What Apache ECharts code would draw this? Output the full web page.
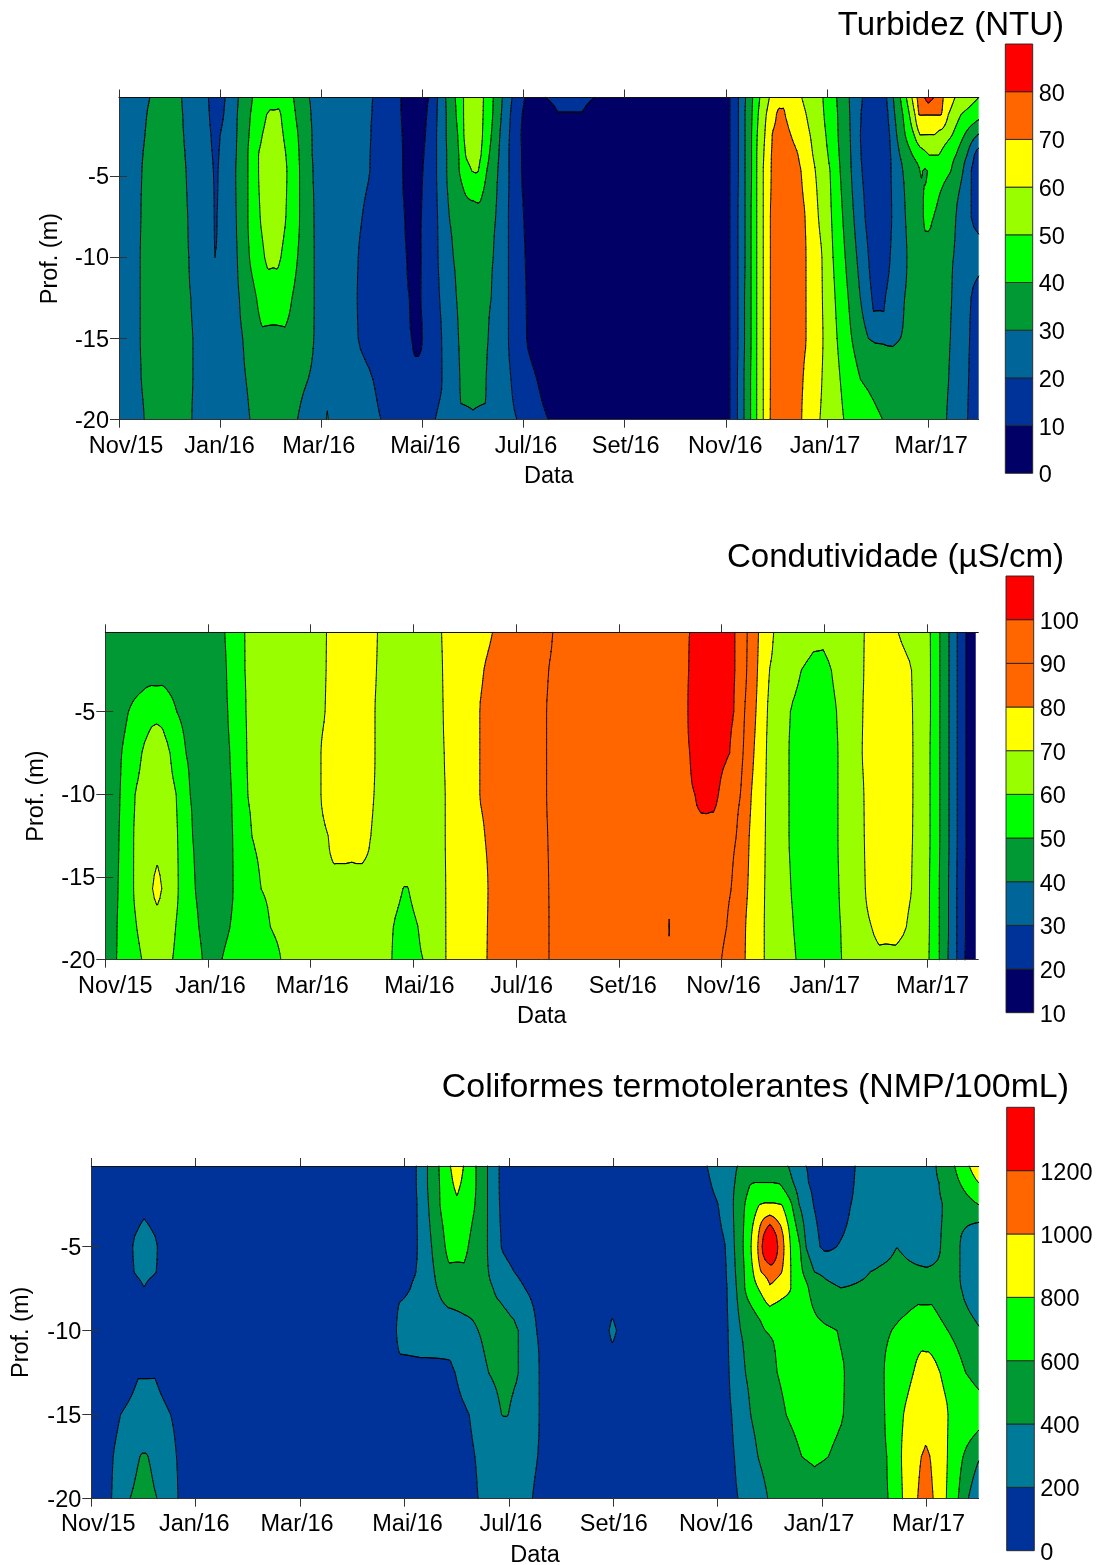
<!DOCTYPE html>
<html>
<head>
<meta charset="utf-8">
<script src="https://cdn.jsdelivr.net/npm/echarts@6/dist/echarts.min.js"></script>
<style>
	html, body { margin: 0; padding: 0; background: #fff; }
	#main { width: 1102px; height: 1565px; }
</style>
</head>
<body>
<div id="main"></div>
<script>
// x is months since Nov/15
var xTicks = [0, 2, 4, 6, 8, 10, 12, 14, 16];
var xTickLabels = ['Nov/15', 'Jan/16', 'Mar/16', 'Mai/16', 'Jul/16', 'Set/16', 'Nov/16', 'Jan/17', 'Mar/17'];
var depthTicks = [-20, -15, -10, -5];

// each row holds [month, value] readings along one depth
var turbLevels = [10, 20, 30, 40, 50, 60, 70, 80];
var turbBarTicks = [0, 10, 20, 30, 40, 50, 60, 70, 80, 90];
var turbDepths = [-0.15, -1.2, -2.5, -3.7, -4.7, -7.5, -10, -12.5, -15, -17.5, -20];
var turbRows = [
	[[0,25],[.61,30],[.91,33],[1.24,30],[1.52,25],[1.77,20],[1.92,15],[2.10,20],[2.24,25],[2.36,30],[2.64,40],[2.99,47],[3.18,47],[3.45,40],[3.76,30],[4.37,25],[5.02,20],[5.57,10],[5.85,5],[6.13,10],[6.30,20],[6.46,30],[6.65,40],[6.81,50],[7.00,56],[7.21,50],[7.40,40],[7.58,30],[7.77,20],[8.02,10],[8.23,5],[8.30,5],[8.44,10],[8.68,13],[9.16,13],[9.40,10],[9.61,5],[11.99,5],[12.08,10],[12.25,20],[12.39,30],[12.53,40],[12.67,50],[12.86,60],[12.99,68],[13.15,68],[13.50,60],[13.92,50],[14.19,40],[14.44,30],[14.70,20],[14.95,15],[15.05,15],[15.18,20],[15.31,30],[15.45,40],[15.57,50],[15.68,60],[15.78,70],[15.93,80],[16.00,85],[16.11,80],[16.30,70],[16.53,60],[17,50]],
	[[0,25],[.55,30],[.91,33],[1.26,30],[1.52,25],[1.79,20],[1.92,15],[2.07,20],[2.22,25],[2.34,30],[2.60,40],[2.92,50],[2.99,51],[3.16,51],[3.20,50],[3.49,40],[3.79,30],[4.37,25],[5.00,20],[5.58,10],[5.85,5],[6.09,10],[6.29,20],[6.47,30],[6.67,40],[6.81,50],[7.00,56],[7.20,50],[7.39,40],[7.56,30],[7.74,20],[7.97,10],[8.2,5],[8.44,5],[8.68,9.5],[9.16,9.5],[9.40,5],[11.99,5],[12.08,10],[12.25,20],[12.38,30],[12.52,40],[12.64,50],[12.80,60],[13.00,70],[13.05,71],[13.15,71],[13.17,70],[13.59,60],[13.94,50],[14.21,40],[14.45,30],[14.67,20],[14.95,15],[15.05,15],[15.21,20],[15.34,30],[15.50,40],[15.63,50],[15.74,60],[15.81,70],[15.85,70.3],[16.23,70.3],[16.27,70],[16.40,60],[16.65,50],[17,43]],
	[[0,25],[.51,30],[.91,33],[1.28,30],[1.55,25],[1.82,20],[1.92,16],[2.00,20],[2.18,25],[2.33,30],[2.57,40],[2.83,50],[3.05,55],[3.25,50],[3.54,40],[3.81,30],[4.37,25],[4.98,20],[5.60,10],[5.85,5],[6.06,10],[6.28,20],[6.47,30],[6.70,40],[6.82,50],[7.00,56],[7.19,50],[7.36,40],[7.53,30],[7.72,20],[7.95,10],[8.15,5],[11.99,5],[12.08,10],[12.25,20],[12.38,30],[12.51,40],[12.62,50],[12.77,60],[12.91,70],[13.1,74],[13.29,70],[13.67,60],[13.98,50],[14.22,40],[14.46,30],[14.66,20],[14.95,15],[15.05,15],[15.24,20],[15.38,30],[15.55,40],[15.73,50],[15.84,59.5],[16.13,59.5],[16.47,50],[16.71,40],[16.96,30],[17,29]],
	[[0,25],[.47,30],[.91,33],[1.31,30],[1.55,25],[1.85,20],[1.92,17],[1.97,20],[2.15,25],[2.32,30],[2.55,40],[2.76,50],[3.05,57],[3.30,50],[3.56,40],[3.82,30],[4.37,25],[4.97,20],[5.61,10],[5.85,5],[6.03,10],[6.28,20],[6.48,30],[6.72,40],[6.85,50],[7.00,55],[7.16,50],[7.32,40],[7.51,30],[7.71,20],[7.96,10],[8.15,5],[11.99,5],[12.08,10],[12.25,20],[12.38,30],[12.51,40],[12.61,50],[12.75,60],[12.90,70],[13.2,75],[13.43,70],[13.72,60],[14.02,50],[14.24,40],[14.47,30],[14.67,20],[14.95,15],[15.05,15],[15.26,20],[15.44,30],[15.69,40],[16.02,50],[16.21,50],[16.55,40],[16.77,30],[16.91,20],[17,17]],
	[[0,25],[.45,30],[.91,33],[1.33,30],[1.6,25],[1.87,20],[1.92,18],[1.96,20],[2.12,25],[2.31,30],[2.55,40],[2.76,50],[3.05,58],[3.32,50],[3.57,40],[3.83,30],[4.37,25],[4.96,20],[5.61,10],[5.85,5],[6.01,10],[6.28,20],[6.48,30],[6.73,40],[6.98,50],[7.05,50.5],[7.11,50],[7.27,40],[7.49,30],[7.71,20],[7.96,10],[8.15,5],[11.99,5],[12.08,10],[12.25,20],[12.38,30],[12.51,40],[12.61,50],[12.74,60],[12.89,70],[13.2,75],[13.49,70],[13.77,60],[14.06,50],[14.26,40],[14.48,30],[14.69,20],[14.95,15],[15.05,15],[15.27,20],[15.50,30],[15.84,40],[15.86,40.3],[15.89,40],[15.94,39.4],[15.99,40],[16.03,41],[16.14,45],[16.45,40],[16.69,30],[16.85,20],[17,16]],
	[[0,25],[.43,30],[.91,33],[1.36,30],[1.6,25],[1.89,20],[1.91,18],[1.94,20],[2.10,25],[2.32,30],[2.55,40],[2.79,50],[3.05,57],[3.30,50],[3.57,40],[3.85,30],[4.3,25],[4.81,20],[5.65,10],[5.85,5],[5.98,10],[6.30,20],[6.53,30],[6.85,36.8],[7.15,36.8],[7.45,30],[7.70,20],[8.00,10],[8.2,5],[11.99,5],[12.08,10],[12.24,20],[12.38,30],[12.50,40],[12.61,50],[12.74,60],[12.88,70],[13.2,75],[13.57,70],[13.83,60],[14.09,50],[14.31,40],[14.53,30],[14.75,20],[14.95,15],[15.05,15],[15.28,20],[15.55,30],[15.91,40],[15.94,42],[16.0,42.5],[16.11,40],[16.55,30],[16.85,20],[17,17]],
	[[0,25],[.42,30],[.91,33],[1.38,30],[1.7,24],[1.90,20],[2.1,25],[2.34,30],[2.58,40],[2.88,50],[2.95,51.6],[3.13,51.6],[3.20,50],[3.53,40],[3.86,30],[4.3,25],[4.73,20],[5.69,10],[5.85,5],[5.97,10],[6.31,20],[6.61,30],[7.0,36],[7.40,30],[7.70,20],[8.03,10],[8.25,5],[11.99,5],[12.08,10],[12.24,20],[12.38,30],[12.50,40],[12.61,50],[12.74,60],[12.88,70],[13.2,75],[13.59,70],[13.90,60],[14.12,50],[14.36,40],[14.59,30],[14.82,20],[14.95,15],[15.05,15],[15.25,20],[15.58,30],[15.95,35],[16.50,30],[17,24]],
	[[0,25],[.42,30],[.91,33],[1.42,30],[1.90,23],[2.38,30],[2.72,40],[2.83,45],[3.28,45],[3.42,40],[3.86,30],[4.3,25],[4.71,20],[5.74,10],[5.85,7],[5.97,10],[6.34,20],[6.67,30],[7.0,34],[7.36,30],[7.70,20],[8.05,10],[8.3,5],[11.99,5],[12.08,10],[12.24,20],[12.37,30],[12.50,40],[12.61,50],[12.74,60],[12.88,70],[13.2,75],[13.59,70],[13.91,60],[14.16,50],[14.42,40],[14.66,30],[14.89,20],[14.92,17.2],[15.12,17.2],[15.15,20],[15.53,30],[16,35],[16.47,30],[16.85,20],[17,15]],
	[[0,25],[.42,30],[.91,33],[1.46,30],[1.95,25],[2.45,30],[2.83,38],[3.28,38],[3.85,30],[4.3,25],[4.73,20],[5.79,10],[5.85,7],[5.92,7],[6.00,10],[6.38,20],[6.71,30],[7.0,33],[7.30,30],[7.70,20],[8.06,10],[8.3,5],[11.99,5],[12.08,10],[12.24,20],[12.37,30],[12.50,40],[12.61,50],[12.74,60],[12.88,70],[13.2,75],[13.59,70],[13.92,60],[14.20,50],[14.49,40],[14.82,30],[14.95,29],[15.3,29],[15.45,30],[16,35],[16.44,30],[16.82,20],[17,15]],
	[[0,25],[.44,30],[.91,33],[1.46,30],[1.98,25],[2.51,30],[3.05,35],[3.74,30],[4.12,27],[5.02,20],[5.79,14.5],[6.00,14.5],[6.39,20],[6.74,30],[6.76,35],[7.24,35],[7.26,30],[7.75,20],[8.26,10],[8.5,5],[11.99,5],[12.08,10],[12.23,20],[12.36,30],[12.49,40],[12.61,50],[12.74,60],[12.88,70],[13.2,75],[13.53,70],[13.90,60],[14.26,50],[14.66,40],[15.2,34],[16,34],[16.41,30],[16.80,20],[17,15]],
	[[0,25],[.50,30],[.91,33],[1.44,30],[1.98,25],[2.59,30],[3.0,34],[3.53,30],[4.0,25],[4.10,30],[4.12,31],[4.14,30],[4.23,25],[5.18,20],[5.9,15],[6.25,20],[6.75,25],[7.0,28],[7.25,25],[7.87,20],[8.49,10],[8.7,5],[11.99,5],[12.08,10],[12.23,20],[12.36,30],[12.49,40],[12.61,50],[12.74,60],[12.87,70],[13.2,75],[13.50,70],[13.86,60],[14.33,50],[15.10,40],[15.6,35],[16.37,30],[16.78,20],[17,15]]
];

var condLevels = [20, 30, 40, 50, 60, 70, 80, 90, 100];
var condBarTicks = [10, 20, 30, 40, 50, 60, 70, 80, 90, 100, 110];
var condDepths = [-0.2, -2.5, -5, -7.5, -10, -12.5, -15.7, -18, -20];
var condRows = [
	[[0,45],[2,45],[2.33,50],[2.71,60],[3.5,65],[4.31,70],[4.8,75],[5.30,70],[5.9,65],[6.55,70],[7.54,80],[8.71,90],[11.38,100],[11.8,105],[12.26,100],[12.50,90],[12.72,80],[13.01,70],[13.5,65],[13.79,62],[13.98,62],[14.3,66],[14.78,70],[15.1,73],[15.44,70],[15.8,65],[16.07,60],[16.25,50],[16.43,40],[16.59,30],[16.76,20],[16.95,10]],
	[[0,44],[.81,47],[1.13,47],[2.0,44],[2.36,50],[2.72,60],[3.5,65],[4.30,70],[4.8,75],[5.28,70],[5.9,65],[6.57,70],[7.37,80],[8.63,90],[11.36,100],[11.8,105],[12.26,100],[12.49,90],[12.70,80],[12.93,70],[13.3,65],[13.55,60],[13.79,58.2],[13.98,58.2],[14.14,60],[14.4,65],[14.77,70],[15.2,75],[15.70,70],[15.95,65],[16.07,60],[16.25,50],[16.43,40],[16.59,30],[16.76,20],[16.95,10]],
	[[0,44],[.2,44],[.45,50],[.90,57],[1.11,57],[1.39,50],[1.8,45],[2.39,50],[2.74,60],[3.5,65],[4.28,70],[4.8,75],[5.25,70],[5.9,65],[6.58,70],[7.29,80],[8.59,90],[11.35,100],[11.8,105],[12.24,100],[12.45,90],[12.67,80],[12.89,70],[13.1,65],[13.34,60],[13.8,55],[14.24,60],[14.45,65],[14.75,70],[15.2,75],[15.72,70],[15.95,65],[16.07,60],[16.25,50],[16.43,40],[16.59,30],[16.76,20],[16.95,10]],
	[[0,44],[.1,44],[.32,50],[.71,60],[1.0,65],[1.26,60],[1.57,50],[1.9,45],[2.43,50],[2.75,60],[3.5,65],[4.20,70],[4.8,75],[5.25,70],[5.9,65],[6.60,70],[7.29,80],[8.59,90],[11.38,100],[11.8,103],[12.16,100],[12.42,90],[12.63,80],[12.87,70],[13.1,65],[13.31,60],[13.8,55],[14.27,60],[14.5,65],[14.74,70],[15.2,75],[15.73,70],[15.95,65],[16.06,60],[16.25,50],[16.43,40],[16.59,30],[16.76,20],[16.95,10]],
	[[0,44],[.05,44],[.29,50],[.58,60],[1,65],[1.38,60],[1.65,50],[2,45],[2.46,50],[2.77,60],[3.5,65],[4.20,70],[4.8,75],[5.23,70],[5.9,65],[6.62,70],[7.29,80],[8.59,90],[11.48,100],[11.6,102.5],[11.84,102.5],[11.94,100],[12.37,90],[12.58,80],[12.86,70],[13.1,65],[13.31,60],[13.8,55],[14.27,60],[14.5,65],[14.77,70],[15.2,75],[15.73,70],[15.95,65],[16.06,60],[16.25,50],[16.43,40],[16.59,30],[16.76,20],[16.95,10]],
	[[0,44],[.04,44],[.27,50],[.55,60],[1.01,68],[1.41,60],[1.70,50],[2.05,45],[2.48,50],[2.85,60],[3.6,65],[4.34,70],[4.45,74],[5.0,74],[5.17,70],[5.5,65],[6.2,65],[6.62,70],[7.39,80],[8.61,90],[11.0,95],[11.7,97],[12.0,95],[12.29,90],[12.54,80],[12.85,70],[13.1,65],[13.31,60],[13.8,55],[14.27,60],[14.5,65],[14.78,70],[15.2,75],[15.72,70],[15.95,65],[16.06,60],[16.25,50],[16.43,40],[16.59,30],[16.76,20],[16.95,10]],
	[[0,44],[.03,44],[.25,50],[.55,60],[.92,70],[1.01,71],[1.10,70],[1.42,60],[1.75,50],[2.1,45],[2.49,50],[3.03,60],[4.45,66],[5.0,66],[5.5,65],[5.81,59.8],[5.89,59.8],[6.2,65],[6.63,70],[7.45,80],[8.63,90],[11,96],[11.7,97],[12.19,90],[12.51,80],[12.84,70],[13.1,65],[13.35,60],[13.8,55],[14.29,60],[14.5,65],[14.80,70],[15.2,75],[15.70,70],[15.95,65],[16.05,60],[16.24,50],[16.42,40],[16.58,30],[16.75,20],[16.95,10]],
	[[0,44],[.01,44],[.23,50],[.61,60],[.9,66],[1.01,68],[1.2,64],[1.37,60],[1.82,50],[2.05,47],[2.43,50],[3.21,60],[4.5,65],[5.2,65],[5.61,60],[5.83,57],[6.09,60],[6.3,65],[6.63,70],[7.44,80],[8.64,90],[10.9,97],[10.95,98],[10.98,100.5],[11.01,98],[11.1,97],[11.7,96],[12.10,90],[12.47,80],[12.83,70],[13.1,65],[13.40,60],[13.8,55],[14.32,60],[14.6,67],[14.92,70],[15.07,72],[15.39,72],[15.60,70],[15.9,65],[16.05,60],[16.24,50],[16.42,40],[16.58,30],[16.75,20],[16.95,10]],
	[[0,44],[.22,50],[.71,60],[1.01,65],[1.31,60],[1.89,50],[2.08,46],[2.27,50],[3.42,60],[4.5,65],[5,65],[5.58,60],[5.85,56],[6.19,60],[6.4,65],[6.63,70],[7.43,80],[8.64,90],[11,97],[11.7,97],[12.0,90],[12.46,80],[12.83,70],[13.1,65],[13.45,60],[13.9,55],[14.34,60],[14.8,66],[15.07,68],[15.39,68],[15.9,65],[16.04,60],[16.24,50],[16.41,40],[16.58,30],[16.74,20],[16.95,10]]
];

var coliLevels = [200, 400, 600, 800, 1000, 1200];
var coliBarTicks = [0, 200, 400, 600, 800, 1000, 1200, 1400];
var coliDepths = [-0.2, -1.2, -2.5, -5, -6.5, -7.5, -10, -12.5, -15, -17.5, -20];
var coliRows = [
	[[0,100],[6,100],[6.23,200],[6.44,400],[6.66,600],[6.88,800],[7.01,905],[7.13,800],[7.37,600],[7.59,400],[7.81,200],[8.1,100],[11.5,100],[11.80,200],[12.38,400],[12.75,480],[13.05,480],[13.35,400],[13.52,300],[13.69,200],[14.15,100],[14.63,200],[15.3,300],[16.19,400],[16.35,500],[16.54,600],[16.82,800],[17,950]],
	[[0,100],[6,100],[6.23,200],[6.44,400],[6.67,600],[6.93,800],[7.0,850],[7.08,800],[7.37,600],[7.59,400],[7.81,200],[8.1,100],[11.55,100],[11.87,200],[12.33,400],[12.62,590],[12.71,602],[13.06,602],[13.19,590],[13.45,400],[13.74,200],[14.15,100],[14.61,200],[15.3,300],[16.24,400],[16.64,600],[17,800]],
	[[0,100],[.6,100],[1.01,168],[1.5,100],[6,100],[6.24,200],[6.46,400],[6.68,600],[7.01,770],[7.35,600],[7.59,400],[7.82,200],[8.1,100],[11.7,100],[12.01,200],[12.30,400],[12.52,600],[12.80,800],[12.91,820],[13.06,820],[13.23,800],[13.42,600],[13.56,400],[13.83,200],[14.15,100],[14.55,200],[15.3,320],[16.31,400],[17,600]],
	[[0,100],[.55,100],[.79,200],[1.01,240],[1.27,200],[1.5,100],[6,100],[6.25,200],[6.52,400],[6.78,600],[6.85,650],[7.14,650],[7.22,600],[7.59,400],[7.85,200],[8.15,100],[11.8,100],[12.15,200],[12.32,400],[12.49,600],[12.64,800],[12.77,1000],[12.85,1200],[13,1498],[13.15,1200],[13.27,1000],[13.39,800],[13.58,600],[13.69,400],[13.96,200],[14.04,180],[14.13,180],[14.28,200],[15.43,399],[16,340],[16.27,400],[16.45,440],[16.64,400],[17,220]],
	[[0,100],[.55,100],[.82,200],[1.01,222],[1.25,200],[1.5,100],[5.9,100],[6.22,200],[6.57,400],[6.85,567],[7.14,567],[7.61,400],[8.10,200],[8.5,100],[11.8,100],[12.17,200],[12.34,400],[12.51,600],[12.68,800],[12.83,1000],[13.04,1100],[13.23,1000],[13.40,800],[13.63,600],[13.85,400],[14.36,300],[14.92,400],[15.43,440],[16,420],[16.4,430],[16.64,400],[17,240]],
	[[0,100],[.55,100],[1.01,198],[1.5,100],[5.7,100],[6.11,200],[6.63,400],[6.85,510],[7.14,510],[7.70,400],[8.31,200],[8.7,100],[11.8,100],[12.18,200],[12.36,400],[12.52,600],[12.78,800],[13.0,975],[13.40,800],[13.74,600],[14.06,450],[14.36,405],[15.11,440],[15.84,530],[16.10,530],[16.41,450],[16.67,400],[17,250]],
	[[0,100],[5.6,100],[5.85,200],[5.91,280],[6.87,280],[7.41,400],[7.83,470],[8.18,400],[8.53,200],[8.9,100],[9.7,100],[9.85,130],[9.92,200],[9.98,225],[10.06,200],[10.13,130],[10.4,100],[11.9,100],[12.20,200],[12.44,400],[12.91,600],[13.0,610],[13.58,650],[14.29,600],[14.73,480],[15.33,600],[15.84,700],[16.10,700],[16.41,600],[17,420]],
	[[0,100],[.5,100],[.9,190],[1.22,190],[1.6,100],[5.5,100],[5.91,130],[6.87,180],[6.97,200],[7.61,400],[7.93,440],[8.18,400],[8.58,200],[9,100],[11.9,100],[12.22,200],[12.53,400],[13.14,600],[13.8,700],[14.43,600],[14.82,480],[15.19,600],[15.75,800],[15.91,880],[16.03,880],[16.26,800],[16.75,600],[17,540]],
	[[0,100],[.3,100],[.56,200],[.9,260],[1.22,260],[1.52,200],[1.9,100],[6.5,100],[7.24,200],[7.86,400],[7.89,403],[7.96,403],[7.99,400],[8.58,200],[9,100],[11.9,100],[12.27,200],[12.63,400],[13.31,600],[13.9,680],[14.41,600],[14.82,480],[15.20,600],[15.56,800],[16,950],[16.41,800],[17,660]],
	[[0,100],[.2,100],[.42,200],[.93,400],[.97,410],[1.05,410],[1.09,400],[1.63,200],[2,100],[6.8,100],[7.35,200],[7.93,320],[8.55,200],[9,100],[12,100],[12.32,200],[12.77,400],[13.61,600],[13.86,620],[14.12,600],[14.73,480],[15.24,600],[15.52,800],[15.90,1000],[15.98,1020],[16.07,1000],[16.40,800],[16.70,600],[17,420]],
	[[0,100],[.15,100],[.39,200],[.74,400],[1,470],[1.26,400],[1.66,200],[2,100],[6.9,100],[7.41,200],[7.93,300],[8.45,200],[8.9,100],[12,100],[12.39,200],[12.96,400],[13.86,520],[14.73,500],[15.27,600],[15.54,800],[15.83,1000],[15.97,1090],[16.13,1000],[16.38,800],[16.61,600],[16.80,400],[17,240]]
];

var FONT = 'Liberation Sans';
var NAVY = '#000066', BLUE = '#003399', TEAL = '#006699', DGREEN = '#009933', GREEN = '#00FF00',
	LIME = '#99FF00', YELLOW = '#FFFF00', ORANGE = '#FF6600', RED = '#FF0000';
var SUBROWS = 4;

// bunch of polylines in one path, no seams between neighbours
echarts.graphic.registerShape('meshPath', echarts.graphic.extendShape({
	type: 'meshPath',
	shape: { polys: [], closed: true },
	buildPath: function (ctx, shape) {
		var polys = shape.polys;
		for (var i = 0; i < polys.length; i++) {
			var p = polys[i];
			ctx.moveTo(p[0], p[1]);
			for (var k = 2; k < p.length; k += 2) ctx.lineTo(p[k], p[k + 1]);
			if (shape.closed) ctx.closePath();
		}
	}
}));

function valueAt(row, x) {
	if (x <= row[0][0]) return row[0][1];
	for (var i = 1; i < row.length; i++) {
		if (x <= row[i][0]) {
			var a = row[i - 1], b = row[i];
			return a[1] + (b[1] - a[1]) * (x - a[0]) / (b[0] - a[0]);
		}
	}
	return row[row.length - 1][1];
}

// monotone cubic down one column, so the contours bend instead of kinking at each depth
function refineColumn(depths, col) {
	var n = depths.length, h = [], s = [], m = [], out = [];
	for (var j = 0; j < n - 1; j++) {
		h.push(depths[j + 1] - depths[j]);
		s.push((col[j + 1] - col[j]) / h[j]);
	}
	m[0] = s[0];
	m[n - 1] = s[n - 2];
	for (j = 1; j < n - 1; j++) {
		m[j] = s[j - 1] * s[j] <= 0 ? 0 : 2 * s[j - 1] * s[j] / (s[j - 1] + s[j]);
	}
	for (j = 0; j < n - 1; j++) {
		for (var k = 0; k < SUBROWS; k++) {
			var t = k / SUBROWS, t2 = t * t, t3 = t2 * t;
			out.push((2 * t3 - 3 * t2 + 1) * col[j] + (t3 - 2 * t2 + t) * h[j] * m[j] +
				(-2 * t3 + 3 * t2) * col[j + 1] + (t3 - t2) * h[j] * m[j + 1]);
		}
	}
	out.push(col[n - 1]);
	return out;
}

function clipTri(poly, lim, above) {
	var out = [];
	for (var i = 0; i < poly.length; i++) {
		var a = poly[i], b = poly[(i + 1) % poly.length];
		var ina = above ? a[2] >= lim : a[2] <= lim;
		var inb = above ? b[2] >= lim : b[2] <= lim;
		if (ina) out.push(a);
		if (ina !== inb) {
			var t = (lim - a[2]) / (b[2] - a[2]);
			out.push([a[0] + (b[0] - a[0]) * t, a[1] + (b[1] - a[1]) * t, lim]);
		}
	}
	return out;
}

function contourItem(cfg) {
	return function (params, api) {
		var step = 0.02, xs = [], px = [], py = [], cols = [];
		var nx = Math.round(cfg.xEnd / step);
		var depths = cfg.depths;
		for (var i = 0; i <= nx; i++) {
			xs.push(i === nx ? cfg.xEnd : i * step);
			px.push(api.coord([xs[i], -10])[0]);
			cols.push(refineColumn(depths, cfg.rows.map(function (row) { return valueAt(row, xs[i]); })));
		}
		for (var j = 0; j < depths.length - 1; j++) {
			for (var k = 0; k < SUBROWS; k++) {
				py.push(api.coord([0, depths[j] + (depths[j + 1] - depths[j]) * k / SUBROWS])[1]);
			}
		}
		py.push(api.coord([0, depths[depths.length - 1]])[1]);

		var levels = cfg.levels;
		var fills = cfg.colors.map(function () { return []; });
		var lines = [];

		function addTri(tri) {
			var lo = Math.min(tri[0][2], tri[1][2], tri[2][2]);
			var hi = Math.max(tri[0][2], tri[1][2], tri[2][2]);
			for (var b = 0; b < fills.length; b++) {
				var bLo = b === 0 ? -Infinity : levels[b - 1];
				var bHi = b === fills.length - 1 ? Infinity : levels[b];
				if (hi < bLo || lo > bHi) continue;
				var poly = tri;
				if (lo < bLo) poly = clipTri(poly, bLo, true);
				if (hi > bHi) poly = clipTri(poly, bHi, false);
				if (poly.length < 3) continue;
				var flat = [];
				poly.forEach(function (p) { flat.push(p[0], p[1]); });
				fills[b].push(flat);
			}
			for (var l = 0; l < levels.length; l++) {
				var lev = levels[l];
				if (lo >= lev || hi < lev) continue;
				var seg = [];
				for (var e = 0; e < 3; e++) {
					var a = tri[e], c = tri[(e + 1) % 3];
					if ((a[2] >= lev) !== (c[2] >= lev)) {
						var t = (lev - a[2]) / (c[2] - a[2]);
						seg.push(a[0] + (c[0] - a[0]) * t, a[1] + (c[1] - a[1]) * t);
					}
				}
				if (seg.length === 4) lines.push(seg);
			}
		}

		for (j = 0; j < py.length - 1; j++) {
			for (i = 0; i < nx; i++) {
				var p00 = [px[i], py[j], cols[i][j]];
				var p10 = [px[i + 1], py[j], cols[i + 1][j]];
				var p11 = [px[i + 1], py[j + 1], cols[i + 1][j + 1]];
				var p01 = [px[i], py[j + 1], cols[i][j + 1]];
				addTri([p00, p10, p11]);
				addTri([p00, p11, p01]);
			}
		}

		var children = fills.map(function (polys, b) {
			return { type: 'meshPath', shape: { polys: polys, closed: true }, style: { fill: cfg.colors[b] }, silent: true };
		});
		children.push({
			type: 'meshPath',
			shape: { polys: lines, closed: false },
			style: { fill: 'none', stroke: '#000', lineWidth: 0.9, lineCap: 'round' },
			silent: true
		});
		return { type: 'group', children: children };
	};
}

function barItem(cfg) {
	return function (params, api) {
		var i = params.dataIndex;
		var a = api.coord([0, cfg.barTicks[i]]);
		var b = api.coord([1, cfg.barTicks[i + 1]]);
		return {
			type: 'rect',
			shape: { x: a[0], y: b[1], width: b[0] - a[0], height: a[1] - b[1] },
			style: { fill: cfg.barColors[i], stroke: '#222', lineWidth: 0.9 }
		};
	};
}

var option = { animation: false, backgroundColor: '#fff', title: [], grid: [], xAxis: [], yAxis: [], series: [] };

function addPanel(cfg) {
	var g = option.grid.length;
	var ax = option.xAxis.length, ay = option.yAxis.length;
	var lineStyle = { color: '#333', width: 1 };
	var tick = { show: true, inside: false, length: 8, lineStyle: { color: '#333', width: 1 } };
	var rich = {};
	cfg.labelShift.forEach(function (s, i) {
		rich['s' + i] = {
			fontFamily: FONT, fontSize: 23.5, color: '#000',
			padding: s >= 0 ? [0, 0, 0, 2 * s] : [0, -2 * s, 0, 0]
		};
	});

	option.title.push({
		text: cfg.title, right: cfg.titleRight, top: cfg.titleTop, padding: 0,
		textStyle: { fontFamily: FONT, fontSize: cfg.titleSize, fontWeight: 'normal', color: '#000' }
	});
	option.grid.push(
		{ left: cfg.left, top: cfg.top, width: cfg.width, height: cfg.height, containLabel: false, outerBoundsMode: 'none' },
		{ left: cfg.barLeft, top: cfg.barTop, width: cfg.barWidth, height: cfg.barHeight, containLabel: false, outerBoundsMode: 'none' }
	);
	option.xAxis.push(
		{
			type: 'value', gridIndex: g, position: 'bottom', min: 0, max: 17, z: 10,
			name: 'Data', nameLocation: 'middle', nameGap: cfg.nameGapX, nameMoveOverlap: false,
			nameTextStyle: { fontFamily: FONT, fontSize: 23.5, color: '#000' },
			axisLine: { show: true, lineStyle: lineStyle },
			axisTick: Object.assign({ customValues: xTicks }, tick),
			splitLine: { show: false },
			axisLabel: {
				customValues: xTicks, margin: cfg.labelMarginX, rich: rich,
				formatter: function (v) { var i = xTicks.indexOf(v); return '{s' + i + '|' + xTickLabels[i] + '}'; }
			}
		},
		{
			type: 'value', gridIndex: g, position: 'top', min: 0, max: 17, z: 10,
			axisLine: { show: true, lineStyle: { color: '#111', width: 1 } },
			axisTick: Object.assign({ customValues: xTicks }, tick),
			splitLine: { show: false }, axisLabel: { show: false }
		},
		{ type: 'value', gridIndex: g + 1, min: 0, max: 1, show: false }
	);
	option.yAxis.push(
		{
			type: 'value', gridIndex: g, position: 'left', min: -20, max: cfg.depths[0], z: 10,
			name: 'Prof. (m)', nameLocation: 'middle', nameRotate: 90, nameGap: cfg.nameGapY, nameMoveOverlap: false,
			nameTextStyle: { fontFamily: FONT, fontSize: 23.5, color: '#000' },
			axisLine: { show: true, lineStyle: lineStyle },
			axisTick: Object.assign({ customValues: depthTicks }, tick, { length: 9 }),
			splitLine: { show: false },
			axisLabel: {
				customValues: depthTicks, margin: 10,
				formatter: function (v) { return '{a|' + v + '}'; },
				rich: { a: { fontFamily: FONT, fontSize: 23.5, color: '#000', padding: [3, 0, 0, 0] } }
			}
		},
		{
			type: 'value', gridIndex: g, position: 'right', min: -20, max: cfg.depths[0], z: 10,
			axisLine: { show: true, lineStyle: lineStyle },
			axisTick: Object.assign({ customValues: depthTicks }, tick),
			splitLine: { show: false }, axisLabel: { show: false }
		},
		{
			type: 'value', gridIndex: g + 1, position: 'right',
			min: cfg.barTicks[0], max: cfg.barTicks[cfg.barTicks.length - 1],
			axisLine: { show: false }, axisTick: { show: false }, splitLine: { show: false },
			axisLabel: {
				customValues: cfg.barTicks.slice(0, -1), margin: 6,
				formatter: function (v) { return '{a|' + v + '}'; },
				rich: { a: { fontFamily: FONT, fontSize: 23.5, color: '#000', padding: [5, 0, 0, 0] } }
			}
		}
	);
	option.series.push(
		{
			type: 'custom', xAxisIndex: ax, yAxisIndex: ay, silent: true, z: 2,
			renderItem: contourItem(cfg), data: [[0]]
		},
		{
			type: 'custom', xAxisIndex: ax + 2, yAxisIndex: ay + 2, silent: true, z: 2,
			renderItem: barItem(cfg), data: cfg.barColors.map(function (c, i) { return [i]; })
		}
	);
}

addPanel({
	title: 'Turbidez (NTU)', titleRight: 38, titleTop: 9, titleSize: 33,
	depths: turbDepths, rows: turbRows, levels: turbLevels, xEnd: 17,
	colors: [NAVY, BLUE, TEAL, DGREEN, GREEN, LIME, YELLOW, ORANGE, RED],
	left: 119, top: 97.5, width: 859.7, height: 322.2,
	nameGapX: 45, nameGapY: 56, labelMarginX: 15,
	labelShift: [7, -0.5, -2.5, 3, 2.5, 1, -0.5, -2, 3],
	barTicks: turbBarTicks, barColors: [NAVY, BLUE, TEAL, DGREEN, GREEN, LIME, YELLOW, ORANGE, RED],
	barLeft: 1005.3, barTop: 44, barWidth: 27.4, barHeight: 429.3
});
addPanel({
	title: 'Condutividade (\u00b5S/cm)', titleRight: 38, titleTop: 541, titleSize: 33.1,
	depths: condDepths, rows: condRows, levels: condLevels, xEnd: 16.95,
	colors: [NAVY, BLUE, TEAL, DGREEN, GREEN, LIME, YELLOW, ORANGE, ORANGE, RED],
	left: 105.3, top: 632.3, width: 873, height: 327.4,
	nameGapX: 45, nameGapY: 57, labelMarginX: 15,
	labelShift: [10, 2.5, 1.5, 6, 5.5, 4, 2, 0.5, 5.5],
	barTicks: condBarTicks, barColors: [NAVY, BLUE, TEAL, DGREEN, GREEN, LIME, YELLOW, ORANGE, ORANGE, RED],
	barLeft: 1006, barTop: 576, barWidth: 27.7, barHeight: 436.7
});
addPanel({
	title: 'Coliformes termotolerantes (NMP/100mL)', titleRight: 33, titleTop: 1071, titleSize: 33.9,
	depths: coliDepths, rows: coliRows, levels: coliLevels, xEnd: 17,
	colors: [BLUE, '#007A99', DGREEN, GREEN, YELLOW, ORANGE, RED],
	left: 91.3, top: 1166, width: 887.4, height: 332.7,
	nameGapX: 45, nameGapY: 58, labelMarginX: 14,
	labelShift: [7, -1.5, -3, 3, 2, 0.5, -1.5, -3, 2],
	barTicks: coliBarTicks, barColors: [BLUE, '#007A99', DGREEN, GREEN, YELLOW, ORANGE, RED],
	barLeft: 1006.7, barTop: 1107.3, barWidth: 27.6, barHeight: 443.4
});

var chart = echarts.init(document.getElementById('main'));
chart.setOption(option);
</script>
</body>
</html>
